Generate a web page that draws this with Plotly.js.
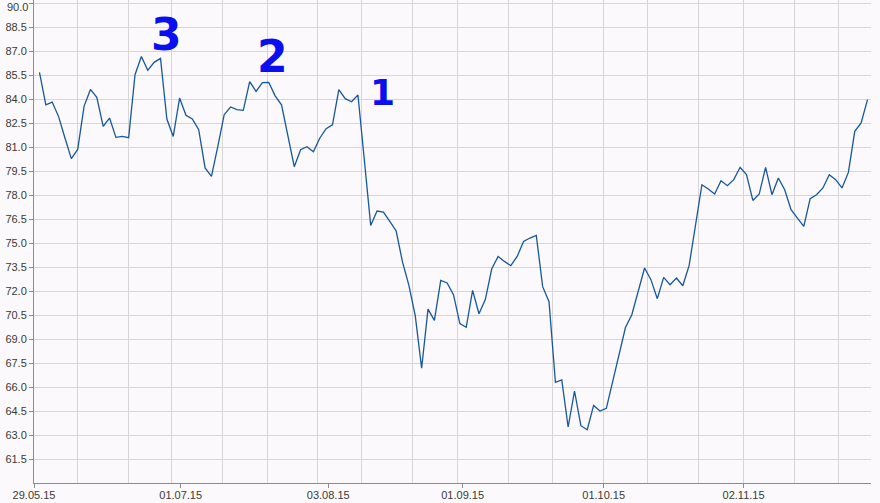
<!DOCTYPE html>
<html>
<head>
<meta charset="utf-8">
<script src="https://cdn.plot.ly/plotly-3.0.1.min.js"></script>
<style>
  html, body { margin: 0; padding: 0; background: #fbf9fb; }
  #chart { width: 880px; height: 503px; }
</style>
</head>
<body>
<div id="chart"></div>
<script>
// Daily closing values (one per trading day, 29.05.15 .. 30.11.15)
const values = [
  85.66, 83.64, 83.81, 82.90, 81.56, 80.27, 80.85, 83.54, 84.60, 84.10,
  82.29, 82.81, 81.60, 81.66, 81.58, 85.52, 86.66, 85.79, 86.29, 86.54,
  82.75, 81.66, 84.06, 82.98, 82.75, 82.08, 79.69, 79.16, 81.04, 83.02,
  83.50, 83.33, 83.29, 85.08, 84.48, 85.02, 85.04, 84.20, 83.64, 81.70,
  79.77, 80.83, 81.02, 80.70, 81.55, 82.14, 82.39, 84.58, 84.02, 83.83,
  84.25, 80.20, 76.10, 77.00, 76.93, 76.35, 75.75, 73.80, 72.35, 70.45,
  67.17, 70.87, 70.16, 72.66, 72.50, 71.77, 69.96, 69.73, 72.04, 70.58,
  71.46, 73.37, 74.16, 73.85, 73.58, 74.16, 75.10, 75.31, 75.48, 72.27,
  71.33, 66.29, 66.44, 63.50, 65.75, 63.58, 63.33, 64.85, 64.50, 64.67,
  66.30, 67.90, 69.72, 70.52, 71.98, 73.44, 72.71, 71.52, 72.85, 72.39,
  72.81, 72.33, 73.60, 76.00, 78.64, 78.37, 78.06, 78.89, 78.58, 78.96,
  79.73, 79.27, 77.66, 78.06, 79.73, 78.02, 79.06, 78.33, 77.08, 76.56,
  76.04, 77.77, 78.02, 78.44, 79.27, 78.96, 78.44, 79.41, 81.98, 82.50,
  83.96
];
const dayIndex = values.map((_, i) => i);

// Date tick labels and their positions on the trading-day scale
const tickLabels = ['29.05.15', '01.07.15', '03.08.15', '01.09.15', '01.10.15', '02.11.15'];
const tickPos    = [-0.86, 22.17, 45.33, 66.44, 88.58, 110.54];

// Vertical grid positions on the trading-day scale
const vGrid = [5.9, 13.9, 20.8, 28.8, 35.8, 43.7, 50.6, 58.6, 65.6, 73.6, 80.6, 88.6, 95.5, 103.5, 110.5, 118.5, 125.5];

// Y tick values (the top one is labelled separately so it stays inside the frame)
const yTicks = [];
for (let k = 1; k <= 20; k++) yTicks.push(60 + 1.5 * k);
const yTopLabel = yTicks[yTicks.length - 1].toFixed(1);
const yLabels = yTicks.map((v, k) => k === yTicks.length - 1 ? '' : v.toFixed(1));

// Hand-drawn marks: label and the peak (trading-day index) they point at
const markLabels = ['3', '2', '1'];
const markPeaks  = [19, 36, 50];
const markShift  = [[6, 24], [4, 26], [25, 3]];

const annotations = markLabels.map((t, k) => ({
  text: '<b>' + t + '</b>',
  x: markPeaks[k],
  y: values[markPeaks[k]],
  xref: 'x', yref: 'y',
  xshift: markShift[k][0],
  yshift: markShift[k][1],
  showarrow: false,
  font: { family: 'DejaVu Sans', size: t === '1' ? 36 : 44, color: '#0a0ff0' }
}));
annotations.push({
  text: yTopLabel,
  xref: 'paper', yref: 'paper',
  x: 0, y: 1,
  xanchor: 'right', yanchor: 'top',
  xshift: -4, yshift: 1,
  showarrow: false,
  font: { family: 'Liberation Sans', size: 11, color: '#3a3a3a' }
});

const trace = {
  x: dayIndex,
  y: values,
  type: 'scatter',
  mode: 'lines',
  line: { color: '#17579f', width: 1.3 },
  hoverinfo: 'y'
};

const layout = {
  width: 880,
  height: 503,
  margin: { l: 34, r: 9, t: 0, b: 20, pad: 0 },
  paper_bgcolor: '#fbf9fb',
  plot_bgcolor: '#fbf9fb',
  showlegend: false,
  font: { family: 'Liberation Sans', size: 11, color: '#3a3a3a' },
  xaxis: {
    range: [-0.86, 130.55],
    tickmode: 'array',
    tickvals: tickPos,
    ticktext: tickLabels,
    ticklabelstandoff: -2,
    showgrid: false,
    zeroline: false,
    showline: true,
    linecolor: '#8c8c8c',
    linewidth: 1,
    ticks: 'outside',
    ticklen: 4,
    tickcolor: '#8c8c8c',
    tickfont: { family: 'Liberation Sans', size: 11, color: '#3a3a3a' },
    minor: {
      tickmode: 'array',
      tickvals: vGrid,
      showgrid: true,
      gridcolor: '#d6d6d6',
      gridwidth: 1,
      ticks: ''
    },
    fixedrange: true
  },
  yaxis: {
    range: [60, 90.1875],
    tickmode: 'array',
    tickvals: yTicks,
    ticktext: yLabels,
    showgrid: true,
    gridcolor: '#d6d6d6',
    gridwidth: 1,
    zeroline: false,
    showline: true,
    linecolor: '#8c8c8c',
    linewidth: 1,
    ticks: 'outside',
    ticklen: 4,
    tickcolor: '#8c8c8c',
    tickfont: { family: 'Liberation Sans', size: 11, color: '#3a3a3a' },
    fixedrange: true
  },
  annotations: annotations
};

Plotly.newPlot('chart', [trace], layout, { displayModeBar: false, staticPlot: true });
</script>
</body>
</html>
